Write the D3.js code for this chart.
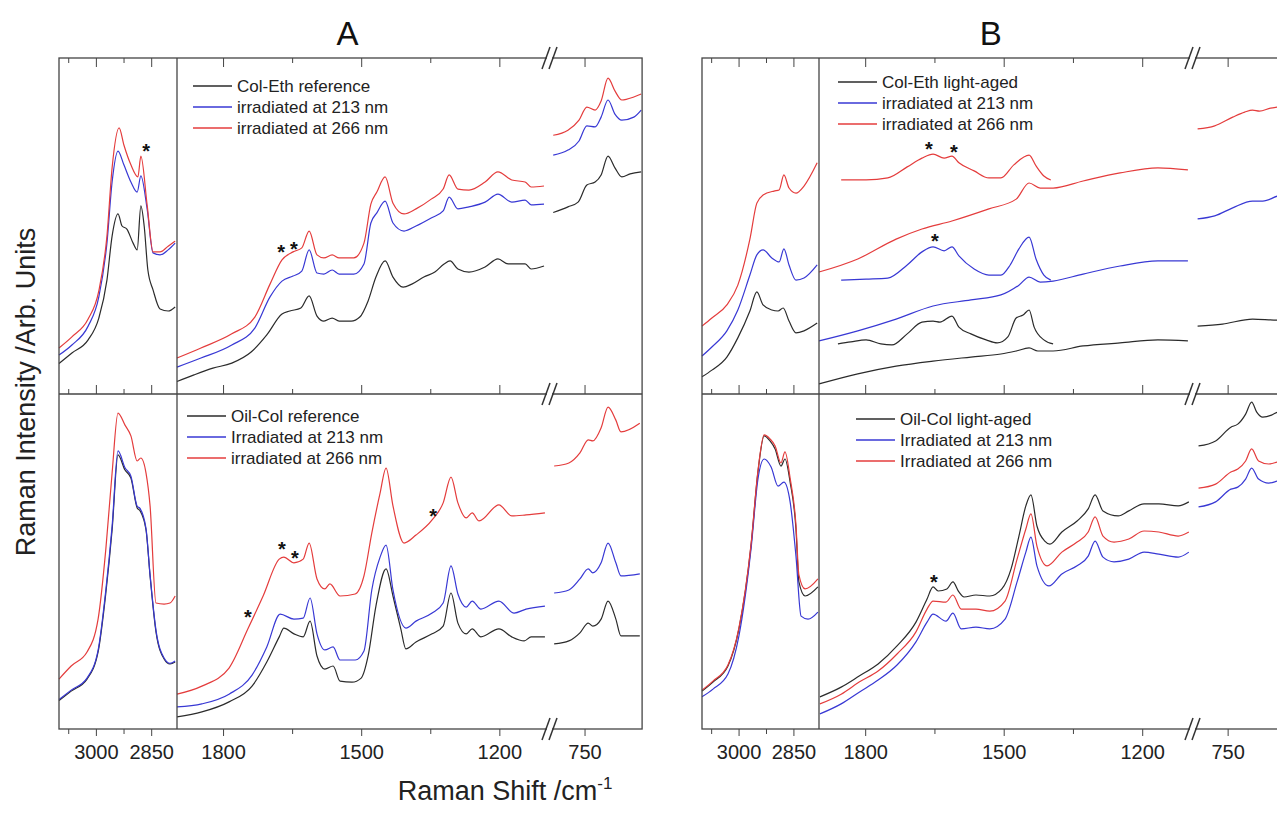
<!DOCTYPE html>
<html>
<head>
<meta charset="utf-8">
<script src="https://cdnjs.cloudflare.com/ajax/libs/d3/7.8.5/d3.min.js"></script>
<style>
  body { margin: 0; background: #fff; }
  svg { display: block; font-family: "Liberation Sans", Arial, sans-serif; }
</style>
</head>
<body>
<svg id="chart" width="1277" height="814"></svg>
<script>
// spectra: [wavenumber /cm-1, intensity (arb., 0-100 per row)]

// ---- A, top row: Col-Eth reference / 213 nm / 266 nm
var aTopChRef = [[3100,9.1],[3065,12.2],[3021,16.1],[2992,22.6],[2970,33.9],[2956,47.0],[2940,53.6],[2929,50.0],[2916,49.1],[2899,44.9],[2888,42.9],[2878,56.0],[2869,50.0],[2859,36.9],[2845,31.0],[2826,25.3],[2804,24.7],[2785,25.9]];
var aTopCh213 = [[3100,11.6],[3065,14.6],[3021,20.2],[2992,28.9],[2970,44.9],[2956,63.1],[2940,72.3],[2924,68.2],[2905,63.1],[2888,60.1],[2878,64.9],[2861,55.1],[2845,42.0],[2826,41.4],[2804,42.9],[2785,44.9]];
var aTopCh266 = [[3100,13.7],[3065,17.0],[3021,22.3],[2992,30.7],[2970,47.0],[2956,67.3],[2937,79.2],[2924,74.1],[2905,68.2],[2886,64.6],[2878,70.8],[2861,56.3],[2845,42.3],[2826,42.3],[2804,44.0],[2785,45.5]];
var aTopFpRef = [[1900,3.7],[1863,5.7],[1822,7.7],[1781,9.2],[1739,12.5],[1705,17.6],[1672,23.8],[1655,24.7],[1631,25.6],[1613,29.2],[1596,23.2],[1581,21.7],[1563,22.6],[1548,21.7],[1522,21.7],[1503,22.9],[1485,27.7],[1468,34.8],[1448,39.6],[1431,34.8],[1409,31.8],[1390,32.7],[1364,34.8],[1340,36.3],[1320,38.7],[1307,39.6],[1290,37.2],[1266,36.3],[1231,37.8],[1203,40.2],[1181,38.7],[1144,38.7],[1131,37.2],[1103,38.1]];
var aTopFp213 = [[1900,8.0],[1848,10.7],[1781,14.6],[1731,19.6],[1698,28.9],[1672,33.6],[1648,35.1],[1629,36.6],[1613,42.9],[1596,36.0],[1581,35.7],[1563,36.9],[1548,35.7],[1516,35.7],[1494,38.7],[1479,50.9],[1466,53.9],[1448,57.4],[1431,50.9],[1407,48.5],[1381,50.0],[1348,52.4],[1322,54.5],[1309,58.6],[1290,55.1],[1266,55.7],[1231,57.1],[1203,59.5],[1173,57.1],[1144,57.7],[1131,56.3],[1103,56.5]];
var aTopFp266 = [[1900,10.7],[1848,13.7],[1781,17.9],[1731,22.9],[1698,32.7],[1672,39.9],[1648,42.3],[1629,43.5],[1613,48.5],[1596,41.4],[1581,40.5],[1563,41.4],[1548,40.5],[1516,40.5],[1494,44.9],[1479,56.5],[1466,60.1],[1448,64.6],[1431,56.8],[1407,53.6],[1381,55.1],[1348,58.0],[1322,61.0],[1309,65.2],[1290,61.0],[1266,60.7],[1231,63.1],[1203,66.1],[1173,63.7],[1144,63.1],[1131,61.6],[1103,61.9]];
var aTopLowRef = [[818,54.0],[786,55.7],[764,57.1],[745,62.2],[727,63.1],[714,65.2],[699,70.8],[684,67.3],[669,64.6],[651,65.5],[627,66.1]];
var aTopLow213 = [[818,71.1],[786,72.6],[762,75.3],[745,79.8],[727,79.5],[714,82.4],[699,87.5],[684,83.3],[669,81.5],[643,82.4],[627,84.5]];
var aTopLow266 = [[818,77.0],[786,78.5],[762,81.5],[745,85.4],[727,84.5],[714,87.2],[699,94.0],[684,90.2],[669,87.5],[643,88.4],[627,89.3]];
var aTopStars = [[2864,73.8],[1674,44.0],[1646,44.9]];

// ---- A, bottom row: Oil-Col reference / 213 nm / 266 nm
var aBotChRef = [[3100,8.5],[3067,11.3],[3024,14.9],[2994,23.0],[2973,40.6],[2956,59.4],[2940,81.8],[2921,77.3],[2905,74.9],[2888,66.0],[2880,65.1],[2864,59.4],[2853,45.7],[2837,29.0],[2815,20.9],[2799,19.4],[2785,20.0]];
var aBotCh213 = [[3100,8.8],[3067,11.6],[3024,15.2],[2994,23.5],[2973,41.5],[2956,60.5],[2940,83.0],[2921,78.0],[2905,75.5],[2888,66.5],[2880,65.8],[2864,59.8],[2853,46.0],[2837,29.5],[2815,21.2],[2799,19.6],[2785,20.3]];
var aBotCh266 = [[3100,14.9],[3067,18.8],[3024,23.0],[2994,32.8],[2973,53.7],[2956,76.4],[2940,94.3],[2921,90.7],[2905,87.5],[2888,80.0],[2878,80.9],[2864,76.4],[2853,66.6],[2837,37.6],[2815,37.3],[2799,37.6],[2785,39.7]];
var aBotFpRef = [[1900,3.6],[1846,5.1],[1787,8.1],[1737,12.8],[1705,20.0],[1678,27.5],[1668,30.1],[1646,28.4],[1626,27.5],[1611,32.2],[1596,21.8],[1579,17.9],[1561,18.8],[1546,14.3],[1520,14.0],[1500,15.2],[1485,21.8],[1468,36.7],[1446,47.8],[1431,39.7],[1414,29.9],[1403,23.9],[1381,26.0],[1346,28.4],[1322,30.7],[1305,40.6],[1290,31.6],[1272,28.4],[1259,29.9],[1240,27.5],[1201,29.9],[1173,27.5],[1146,26.3],[1131,27.5],[1101,27.5]];
var aBotFp213 = [[1900,6.6],[1846,7.5],[1787,10.4],[1737,16.1],[1705,24.5],[1676,34.3],[1646,32.8],[1626,33.1],[1611,39.1],[1596,28.4],[1579,23.6],[1561,24.5],[1546,20.6],[1513,20.6],[1494,23.3],[1477,41.5],[1459,51.3],[1446,54.9],[1431,41.5],[1403,30.1],[1381,32.2],[1346,34.6],[1322,37.6],[1305,48.7],[1290,40.3],[1272,36.4],[1259,38.2],[1240,35.8],[1201,38.2],[1168,34.6],[1142,35.8],[1101,36.7]];
var aBotFp266 = [[1900,10.4],[1846,12.8],[1787,18.2],[1746,29.9],[1713,39.7],[1678,50.7],[1668,51.3],[1646,49.6],[1626,50.7],[1613,55.5],[1596,44.8],[1579,41.8],[1568,43.3],[1546,39.7],[1513,40.3],[1494,45.7],[1477,58.5],[1459,70.4],[1446,77.9],[1431,66.6],[1407,55.5],[1381,57.9],[1346,62.4],[1322,67.5],[1305,75.2],[1290,67.5],[1272,63.0],[1259,64.5],[1244,62.1],[1201,66.9],[1173,63.6],[1142,63.9],[1101,64.5]];
var aBotLowRef = [[816,25.4],[784,26.3],[760,28.7],[742,31.6],[732,30.7],[714,32.8],[699,38.2],[682,32.8],[671,27.8],[630,27.8]];
var aBotLow213 = [[816,40.6],[784,41.5],[760,44.8],[742,47.8],[732,46.6],[714,49.6],[699,55.5],[682,49.6],[671,45.7],[630,46.3]];
var aBotLow266 = [[816,78.5],[784,79.4],[760,82.4],[742,86.3],[732,86.0],[714,89.9],[699,96.1],[682,92.2],[671,88.7],[630,91.3]];
var aBotStars = [[1746,34.9],[1672,55.2],[1644,52.8],[1344,65.1]];

// ---- B, top row: Col-Eth light-aged / 213 nm / 266 nm (each with an offset difference trace)
var bTopChRef = [[3100,5.1],[3073,7.1],[3032,11.0],[3002,16.7],[2969,24.7],[2950,30.4],[2933,26.5],[2909,25.0],[2892,24.7],[2878,25.6],[2862,21.7],[2843,18.2],[2821,18.8],[2785,21.1]];
var bTopCh213 = [[3100,11.3],[3073,14.0],[3032,18.8],[3002,25.0],[2969,35.4],[2950,41.4],[2933,42.9],[2909,40.5],[2889,39.3],[2876,43.2],[2862,38.4],[2843,33.9],[2821,34.5],[2785,38.4]];
var bTopCh266 = [[3100,20.2],[3073,22.6],[3032,26.5],[3002,32.4],[2969,46.1],[2950,56.8],[2933,59.2],[2903,60.4],[2889,60.7],[2876,65.2],[2862,61.3],[2843,59.8],[2821,61.9],[2785,68.8]];
var bTopFpRef = [[1900,3.0],[1816,6.0],[1733,8.3],[1653,9.8],[1571,11.0],[1506,11.9],[1473,12.8],[1445,13.7],[1426,12.8],[1393,12.8],[1328,14.3],[1248,15.2],[1166,16.1],[1101,15.8]];
var bTopFp213 = [[1900,15.8],[1816,18.8],[1733,22.3],[1653,26.2],[1571,28.0],[1506,29.5],[1467,32.4],[1445,34.8],[1421,33.3],[1393,33.6],[1328,35.7],[1248,38.1],[1166,39.6],[1101,39.6]];
var bTopFp266 = [[1900,36.3],[1816,40.2],[1733,46.1],[1677,49.1],[1612,51.5],[1532,55.1],[1473,58.0],[1445,62.8],[1421,61.3],[1393,61.3],[1328,63.4],[1248,65.8],[1166,67.3],[1101,66.7]];
var bTopDiffRef = [[1859,14.9],[1831,15.5],[1798,16.1],[1766,14.9],[1742,14.6],[1709,17.9],[1677,21.4],[1653,21.7],[1638,21.4],[1612,23.2],[1597,19.9],[1571,17.9],[1538,16.1],[1514,15.2],[1491,17.0],[1473,22.6],[1458,23.5],[1445,25.0],[1434,19.9],[1413,16.1],[1393,14.9]];
var bTopDiff213 = [[1852,33.9],[1798,34.2],[1751,34.5],[1709,38.4],[1677,42.3],[1653,43.8],[1629,42.6],[1612,43.8],[1597,41.1],[1564,37.2],[1532,35.4],[1506,35.4],[1486,38.4],[1467,43.2],[1445,46.7],[1430,40.2],[1413,35.4],[1398,33.9]];
var bTopDiff266 = [[1852,63.7],[1798,63.7],[1751,64.3],[1709,67.6],[1677,70.2],[1653,71.4],[1629,70.2],[1612,70.8],[1597,68.8],[1564,66.4],[1532,64.3],[1506,64.3],[1478,68.2],[1445,71.1],[1430,67.9],[1413,64.9],[1398,63.7]];
var bTopLowRef = [[815,20.2],[761,20.8],[696,22.3],[642,22.0],[625,22.0]];
var bTopLow213 = [[815,52.1],[778,53.0],[739,55.4],[696,57.4],[674,57.4],[642,58.9],[625,59.5]];
var bTopLow266 = [[815,78.9],[778,79.8],[739,82.4],[713,83.9],[696,84.5],[681,84.2],[657,85.1],[642,85.4],[625,85.7]];
var bTopStars = [[1662,74.4],[1608,73.5],[1649,47.0]];

// ---- B, bottom row: Oil-Col light-aged / 213 nm / 266 nm
var bBotChRef = [[3100,11.3],[3070,14.0],[3029,18.8],[2999,29.9],[2966,54.6],[2947,76.7],[2930,87.5],[2914,86.0],[2900,83.6],[2884,78.5],[2873,80.6],[2859,73.7],[2843,59.7],[2835,43.9],[2818,39.7],[2783,42.4]];
var bBotCh213 = [[3100,9.6],[3070,11.9],[3029,16.4],[2999,27.8],[2966,53.7],[2947,74.6],[2930,80.6],[2911,78.2],[2892,72.5],[2876,73.7],[2859,67.8],[2843,51.6],[2829,33.7],[2810,32.8],[2783,34.9]];
var bBotCh266 = [[3100,11.6],[3070,14.3],[3029,19.1],[2999,30.2],[2966,55.0],[2947,77.0],[2930,87.8],[2914,86.6],[2900,84.5],[2884,79.4],[2873,82.7],[2859,74.9],[2843,60.9],[2835,46.0],[2818,41.8],[2783,44.8]];
var bBotFpRef = [[1898,9.6],[1852,12.5],[1813,15.8],[1772,19.4],[1731,24.8],[1690,31.9],[1666,38.8],[1653,42.4],[1642,41.2],[1623,41.8],[1610,43.9],[1597,40.9],[1586,39.4],[1560,40.0],[1530,39.7],[1504,41.8],[1484,47.8],[1467,57.6],[1452,66.6],[1441,69.9],[1428,60.6],[1411,56.1],[1400,55.2],[1374,58.8],[1341,62.1],[1317,65.7],[1302,69.9],[1285,65.1],[1252,63.6],[1229,65.1],[1196,67.2],[1164,67.2],[1122,66.6],[1099,67.8]];
var bBotFp213 = [[1898,4.5],[1852,7.5],[1813,11.0],[1772,14.6],[1731,19.1],[1690,26.0],[1666,31.9],[1653,34.3],[1625,32.2],[1610,34.6],[1592,29.9],[1560,30.4],[1530,29.9],[1497,32.8],[1471,43.9],[1452,52.8],[1441,57.3],[1428,48.7],[1402,42.7],[1374,46.3],[1341,48.7],[1317,51.6],[1302,56.1],[1285,51.3],[1261,49.9],[1229,50.7],[1196,52.8],[1164,52.2],[1122,51.3],[1099,52.8]];
var bBotFp266 = [[1898,7.5],[1852,10.4],[1813,14.0],[1772,17.3],[1731,22.4],[1690,29.0],[1666,35.8],[1653,38.2],[1625,37.9],[1610,40.0],[1592,35.8],[1560,35.8],[1530,35.2],[1497,38.2],[1471,50.7],[1452,59.7],[1441,64.2],[1428,54.6],[1406,48.7],[1374,52.8],[1341,55.8],[1317,58.8],[1302,63.3],[1285,57.6],[1261,55.8],[1229,56.7],[1196,59.1],[1164,58.8],[1122,57.6],[1099,58.8]];
var bBotLowRef = [[813,84.5],[776,86.0],[743,90.1],[728,91.0],[711,94.0],[698,97.6],[687,94.6],[674,93.1],[655,93.7],[642,94.6],[625,95.2]];
var bBotLow213 = [[813,66.3],[776,67.8],[743,71.6],[728,72.2],[711,74.6],[698,77.9],[683,74.6],[661,73.4],[642,74.0],[625,74.6]];
var bBotLow266 = [[813,71.9],[776,73.1],[743,76.7],[728,77.6],[711,80.0],[698,83.6],[683,80.0],[661,79.1],[642,79.7],[625,80.3]];
var bBotStars = [[1651,45.4]];

// tick values and labels
var chTicks = [3000, 2850], chMinor = [3075, 2925];
var fpTicks = [1800, 1500, 1200], fpMinor = [1650, 1350];
var lowTicks = [750];

var legendATop = ["Col-Eth reference", "irradiated at 213 nm", "irradiated at 266 nm"];
var legendABot = ["Oil-Col reference", "Irradiated at 213 nm", "irradiated at 266 nm"];
var legendBTop = ["Col-Eth light-aged", "irradiated at 213 nm", "irradiated at 266 nm"];
var legendBBot = ["Oil-Col light-aged", "Irradiated at 213 nm", "Irradiated at 266 nm"];

var colors = ["#2b2b2b", "#3838d4", "#e43c3c"];

var svg = d3.select("#chart");
var rowTop = 58, rowMid = 394, rowBottom = 729;
var yTop = d3.scaleLinear().domain([0, 100]).range([rowMid, rowTop]);
var yBot = d3.scaleLinear().domain([0, 100]).range([rowBottom, rowMid]);

var panels = [
  { name: "A", left: 59, div: 177, brk: 550 },
  { name: "B", left: 702, div: 819, brk: 1193 }
];
panels.forEach(function (p) {
  p.xCH = d3.scaleLinear().domain([3100, 2780]).range([p.left, p.div]);
  p.xFP = d3.scaleLinear().domain([1900, 1090]).range([p.div, p.brk]);
  var k = (p.brk - p.div) / 810;
  p.right = p.brk + 200 * k;
  p.xLow = d3.scaleLinear().domain([825, 625]).range([p.brk, p.right]);
});

// series table
var series = [
  [0, yTop, "xCH", [aTopChRef, aTopCh213, aTopCh266]],
  [0, yTop, "xFP", [aTopFpRef, aTopFp213, aTopFp266]],
  [0, yTop, "xLow", [aTopLowRef, aTopLow213, aTopLow266]],
  [0, yBot, "xCH", [aBotChRef, aBotCh213, aBotCh266]],
  [0, yBot, "xFP", [aBotFpRef, aBotFp213, aBotFp266]],
  [0, yBot, "xLow", [aBotLowRef, aBotLow213, aBotLow266]],
  [1, yTop, "xCH", [bTopChRef, bTopCh213, bTopCh266]],
  [1, yTop, "xFP", [bTopFpRef, bTopFp213, bTopFp266]],
  [1, yTop, "xFP", [bTopDiffRef, bTopDiff213, bTopDiff266]],
  [1, yTop, "xLow", [bTopLowRef, bTopLow213, bTopLow266]],
  [1, yBot, "xCH", [bBotChRef, bBotCh213, bBotCh266]],
  [1, yBot, "xFP", [bBotFpRef, bBotFp213, bBotFp266]],
  [1, yBot, "xLow", [bBotLowRef, bBotLow213, bBotLow266]]
];

series.forEach(function (s) {
  var p = panels[s[0]], x = p[s[2]], y = s[1];
  var line = d3.line()
    .x(function (d) { return x(d[0]); })
    .y(function (d) { return y(d[1]); })
    .curve(d3.curveMonotoneX);
  s[3].forEach(function (data, i) {
    svg.append("path")
      .attr("d", line(data))
      .attr("fill", "none")
      .attr("stroke", colors[i])
      .attr("stroke-width", 1.2);
  });
});

// asterisks
var stars = [
  [0, yTop, [[aTopStars[0]], "xCH"], [aTopStars.slice(1), "xFP"]],
  [0, yBot, [[], "xCH"], [aBotStars, "xFP"]],
  [1, yTop, [[], "xCH"], [bTopStars, "xFP"]],
  [1, yBot, [[], "xCH"], [bBotStars, "xFP"]]
];
stars.forEach(function (s) {
  var p = panels[s[0]];
  [s[2], s[3]].forEach(function (g) {
    svg.selectAll(null).data(g[0]).enter().append("text")
      .attr("x", function (d) { return p[g[1]](d[0]); })
      .attr("y", function (d) { return s[1](d[1]); })
      .attr("dy", "0.62em")
      .attr("text-anchor", "middle")
      .attr("font-size", 20)
      .attr("font-weight", "bold")
      .attr("fill", "#111")
      .text("*");
  });
});

// frames and axes
panels.forEach(function (p) {
  var g = svg.append("g");
  var frame = "#444";
  g.append("rect").attr("x", p.left).attr("y", rowTop)
    .attr("width", p.right - p.left).attr("height", rowBottom - rowTop)
    .attr("fill", "none").attr("stroke", frame).attr("stroke-width", 1.3);
  g.append("line").attr("x1", p.left).attr("x2", p.right).attr("y1", rowMid).attr("y2", rowMid)
    .attr("stroke", frame).attr("stroke-width", 1.3);
  g.append("line").attr("x1", p.div).attr("x2", p.div).attr("y1", rowTop).attr("y2", rowBottom)
    .attr("stroke", frame).attr("stroke-width", 1.3);

  var parts = [[p.xCH, chTicks, chMinor], [p.xFP, fpTicks, fpMinor], [p.xLow, lowTicks, []]];
  parts.forEach(function (part) {
    [[rowTop, d3.axisBottom, false], [rowMid, d3.axisTop, false], [rowBottom, d3.axisBottom, true]].forEach(function (ed) {
      var ax = g.append("g").attr("transform", "translate(0," + ed[0] + ")")
        .call(ed[1](part[0]).tickValues(part[1]).tickSize(ed[2] ? 7 : 9).tickPadding(9)
          .tickFormat(ed[2] ? d3.format("d") : ""));
      ax.select(".domain").remove();
      ax.selectAll("line").attr("stroke", frame);
      ax.selectAll("text").attr("font-size", 20).attr("fill", "#222")
        .attr("font-family", "'Liberation Sans', Arial, sans-serif");
      var mn = g.append("g").attr("transform", "translate(0," + ed[0] + ")")
        .call(ed[1](part[0]).tickValues(part[2]).tickSize(5).tickFormat(""));
      mn.select(".domain").remove();
      mn.selectAll("line").attr("stroke", frame);
    });
  });

  // axis break marks
  [rowTop, rowMid, rowBottom].forEach(function (yy) {
    g.append("rect").attr("x", p.brk - 3).attr("y", yy - 2).attr("width", 5).attr("height", 4).attr("fill", "#fff");
    [-4, 3].forEach(function (dx) {
      g.append("line")
        .attr("x1", p.brk + dx - 4).attr("y1", yy + 11)
        .attr("x2", p.brk + dx + 4).attr("y2", yy - 11)
        .attr("stroke", "#333").attr("stroke-width", 1.5);
    });
  });

  g.append("text").attr("x", (p.left + p.right) / 2 - 3).attr("y", 45)
    .attr("text-anchor", "middle").attr("font-size", 33).attr("fill", "#111").text(p.name);
});

// legends
function legend(x, y, labels) {
  labels.forEach(function (t, i) {
    svg.append("line").attr("x1", x).attr("x2", x + 39)
      .attr("y1", y + i * 21).attr("y2", y + i * 21)
      .attr("stroke", colors[i]).attr("stroke-width", 1.3);
    svg.append("text").attr("x", x + 44).attr("y", y + i * 21).attr("dy", "0.35em")
      .attr("font-size", 17).attr("fill", "#222").text(t);
  });
}
legend(193, 86, legendATop);
legend(187, 416, legendABot);
legend(838, 82, legendBTop);
legend(856, 419, legendBBot);

// axis titles
svg.append("text").attr("transform", "translate(35,392) rotate(-90)")
  .attr("text-anchor", "middle").attr("font-size", 27).attr("fill", "#222")
  .text("Raman Intensity /Arb. Units");
var xt = svg.append("text").attr("x", 505).attr("y", 800).attr("text-anchor", "middle")
  .attr("font-size", 27).attr("fill", "#222");
xt.append("tspan").text("Raman Shift /cm");
xt.append("tspan").attr("dy", -11).attr("font-size", 17).text("-1");
</script>
</body>
</html>
